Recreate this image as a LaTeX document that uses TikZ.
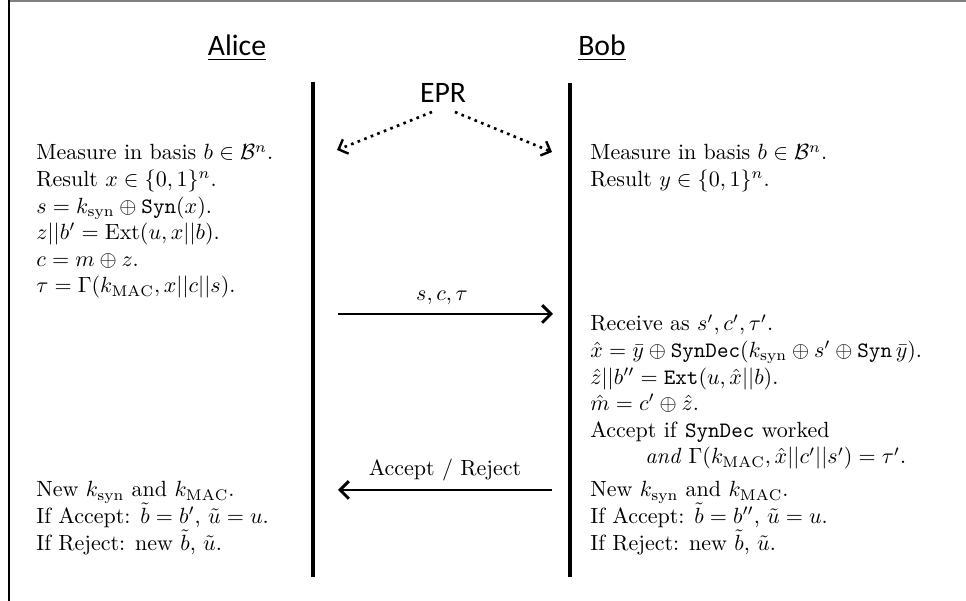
\documentclass[tikz,border=0pt]{standalone}
\usepackage{fontspec}
\newfontfamily\headfont{Carlito}
\usetikzlibrary{arrows.meta}
\begin{document}
\begin{tikzpicture}[x=0.4545pt,y=-0.4545pt,
  txt/.style={anchor=base west, inner sep=0pt, text height=7pt, text depth=2pt},
  head/.style={font=\headfont\fontsize{13.5}{16}\selectfont, inner sep=0pt, anchor=base},
  life/.style={line width=1.8pt},
  msg/.style={line width=1.3pt, -{Straight Barb[length=4pt,width=8pt,line width=1.3pt]}},
  eprarrow/.style={dotted, line width=1.2pt, -{Straight Barb[length=3.5pt,width=7pt,line width=1.1pt]}},
  lbl/.style={anchor=base, inner sep=0pt}]
\useasboundingbox (0,0) rectangle (966,601);
% frame
\draw[gray, line width=1pt] (9,1) -- (966,1);
\draw[black, line width=0.7pt] (9,0) -- (9,601);
% headings
\node[head] (alice) at (237,56) {\underline{Alice}};
\node[head] (bob) at (602,56) {\underline{Bob}};
\node[head] (eprn) at (443,103) {EPR};
% lifelines
\coordinate (atop) at (313,82);
\coordinate (abot) at (313,577);
\coordinate (btop) at (570,83);
\coordinate (bbot) at (570,577);
\draw[life] (atop) -- (abot);
\draw[life] (btop) -- (bbot);
% EPR arrows
\coordinate (e1) at (432,112);
\coordinate (e1t) at (337,150);
\coordinate (e2) at (455,112);
\coordinate (e2t) at (552,152);
\draw[eprarrow] (e1) -- (e1t);
\draw[eprarrow] (e2) -- (e2t);
% Alice text
\node[txt] (a1) at (36,160) {Measure in basis $b\in\mathcal{B}^n$.};
\node[txt] (a2) at (36,186.6) {Result $x\in\{0,1\}^n$.};
\node[txt] (a3) at (36,213.2) {$s=k_{\mathrm{syn}}\oplus\mathtt{Syn}(x)$.};
\node[txt] (a4) at (36,239.8) {$z||b'=\mathrm{Ext}(u,x||b)$.};
\node[txt] (a5) at (36,266.4) {$c=m\oplus z$.};
\node[txt] (a6) at (36,293) {$\tau=\Gamma(k_{\mathrm{MAC}},x||c||s)$.};
% Bob text 1
\node[txt] (b1) at (590,160) {Measure in basis $b\in\mathcal{B}^n$.};
\node[txt] (b2) at (590,186.6) {Result $y\in\{0,1\}^n$.};
% message 1
\coordinate (m1s) at (338,314);
\coordinate (m1e) at (553,314);
\draw[msg] (m1s) -- (m1e);
\node[lbl] (m1l) at (442,301) {$s,c,\tau$};
% Bob text 2
\node[txt] (b3) at (590,331) {Receive as $s',c',\tau'$.};
\node[txt] (b4) at (590,357.6) {$\hat{x}=\bar{y}\oplus\mathtt{SynDec}(k_{\mathrm{syn}}\oplus s'\oplus\mathtt{Syn}\,\bar{y})$.};
\node[txt] (b5) at (590,384.2) {$\hat{z}||b''=\mathtt{Ext}(u,\hat{x}||b)$.};
\node[txt] (b6) at (590,410.8) {$\hat{m}=c'\oplus\hat{z}$.};
\node[txt] (b7) at (590,437.4) {Accept if \texttt{SynDec} worked};
\node[txt] (b8) at (645,464) {\emph{and} $\Gamma(k_{\mathrm{MAC}},\hat{x}||c'||s')=\tau'$.};
% message 2
\coordinate (m2s) at (552,490);
\coordinate (m2e) at (338,490);
\draw[msg] (m2s) -- (m2e);
\node[lbl] (m2l) at (445,476) {Accept / Reject};
% bottom texts
\node[txt] (a7) at (36,497) {New $k_{\mathrm{syn}}$ and $k_{\mathrm{MAC}}$.};
\node[txt] (a8) at (36,523.6) {If Accept: $\tilde{b}=b'$, $\tilde{u}=u$.};
\node[txt] (a9) at (36,550.2) {If Reject: new $\tilde{b}$, $\tilde{u}$.};
\node[txt] (b9) at (590,497) {New $k_{\mathrm{syn}}$ and $k_{\mathrm{MAC}}$.};
\node[txt] (b10) at (590,523.6) {If Accept: $\tilde{b}=b''$, $\tilde{u}=u$.};
\node[txt] (b11) at (590,550.2) {If Reject: new $\tilde{b}$, $\tilde{u}$.};
\end{tikzpicture}
\end{document}
